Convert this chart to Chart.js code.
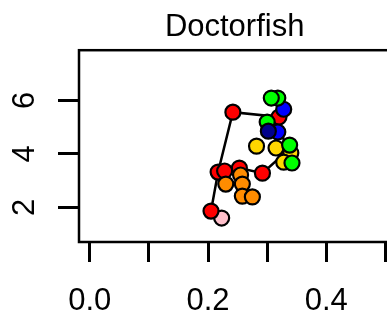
<!DOCTYPE html>
<html>
<head>
<meta charset="utf-8">
<script src="https://cdn.jsdelivr.net/npm/chart.js@4.4.0/dist/chart.umd.min.js"></script>
<style>
  html, body { margin: 0; padding: 0; overflow: hidden; background: #fff; }
</style>
</head>
<body>
<canvas id="grafico" width="400" height="317"></canvas>
<script>
const chartTitle = "Doctorfish";

const xTicks = [0, 0.1, 0.2, 0.3, 0.4, 0.5];
const xTickLabels = ["0.0", "", "0.2", "", "0.4", ""];
const yTicks = [2, 4, 6];
const yTickLabels = ["2", "4", "6"];

// trajectory (red points joined by the black line)
const redX = [0.205, 0.217, 0.242, 0.32, 0.332, 0.292, 0.253, 0.228];
const redY = [1.86, 3.32, 5.56, 5.38, 4.07, 3.28, 3.47, 3.36];

const orangeX = [0.255, 0.23, 0.258, 0.258, 0.275];
const orangeY = [3.21, 2.87, 2.87, 2.42, 2.39];

const pinkX = [0.223];
const pinkY = [1.6];

const greenX = [0.318, 0.307, 0.30, 0.338, 0.342];
const greenY = [6.09, 6.09, 5.19, 4.33, 3.66];

const blueX = [0.328, 0.318];
const blueY = [5.67, 4.82];

const navyX = [0.302];
const navyY = [4.85];

const yellowX = [0.282, 0.315, 0.34, 0.328];
const yellowY = [4.29, 4.22, 4.03, 3.69];

const fontFamily = "'Liberation Sans', Arial, Helvetica, sans-serif";

function toPoints(xs, ys) {
  return xs.map((x, i) => ({ x: x, y: ys[i] }));
}

function pointSet(xs, ys, color) {
  return {
    data: toPoints(xs, ys),
    showLine: false,
    pointRadius: 7.5,
    pointHoverRadius: 7.5,
    pointBorderWidth: 2.2,
    pointBorderColor: "#000",
    pointBackgroundColor: color,
  };
}

// R style box + rotated y labels
const boxPlugin = {
  id: "box",
  afterDraw(chart) {
    const ctx = chart.ctx;
    const area = chart.chartArea;
    ctx.save();
    ctx.strokeStyle = "#000";
    ctx.lineWidth = 2.5;
    ctx.strokeRect(area.left, area.top, area.right - area.left, area.bottom - area.top);

    const yScale = chart.scales.y;
    ctx.fillStyle = "#000";
    ctx.font = "31px " + fontFamily;
    ctx.textAlign = "center";
    ctx.textBaseline = "middle";
    yTicks.forEach((value, i) => {
      ctx.save();
      ctx.translate(25, yScale.getPixelForValue(value));
      ctx.rotate(-Math.PI / 2);
      ctx.fillText(yTickLabels[i], 0, 0);
      ctx.restore();
    });
    ctx.restore();
  },
};

const lineSet = pointSet(redX, redY, "#ff0000");
lineSet.showLine = true;
lineSet.borderColor = "#000";
lineSet.borderWidth = 2.5;
lineSet.tension = 0;

new Chart(document.getElementById("grafico"), {
  type: "scatter",
  data: {
    datasets: [
      pointSet(navyX, navyY, "#00008b"),
      pointSet(greenX, greenY, "#00ff00"),
      pointSet(blueX, blueY, "#0000ff"),
      pointSet(yellowX, yellowY, "#ffd700"),
      pointSet(orangeX, orangeY, "#ff8c00"),
      lineSet,
      pointSet(pinkX, pinkY, "#ffc0cb"),
    ],
  },
  options: {
    responsive: false,
    animation: false,
    layout: { padding: { left: 0, right: 5, top: 0, bottom: 0 } },
    plugins: {
      legend: { display: false },
      tooltip: { enabled: false },
      title: {
        display: true,
        text: chartTitle,
        fullSize: false,
        color: "#000",
        font: { family: fontFamily, size: 31, weight: "normal", lineHeight: 1.2 },
        padding: { top: 9, bottom: 4 },
      },
    },
    scales: {
      x: {
        type: "linear",
        position: "bottom",
        min: -0.0183,
        max: 0.5083,
        afterBuildTicks: (scale) => {
          scale.ticks = xTicks.map((v) => ({ value: v }));
        },
        afterFit: (scale) => {
          scale.height = 75;
          scale.paddingLeft = 0;
          scale.paddingRight = 0;
        },
        border: { display: false },
        grid: { drawOnChartArea: false, tickLength: 20, tickWidth: 3, tickColor: "#000" },
        ticks: {
          autoSkip: false,
          maxRotation: 0,
          padding: 21,
          color: "#000",
          font: { family: fontFamily, size: 31 },
          callback: (value) => xTickLabels[xTicks.indexOf(value)],
        },
      },
      y: {
        type: "linear",
        min: 0.703,
        max: 7.88,
        afterBuildTicks: (scale) => {
          scale.ticks = yTicks.map((v) => ({ value: v }));
        },
        afterFit: (scale) => {
          scale.width = 79;
        },
        border: { display: false },
        grid: { drawOnChartArea: false, tickLength: 21, tickWidth: 3, tickColor: "#000" },
        ticks: { display: false },
      },
    },
  },
  plugins: [boxPlugin],
});
</script>
</body>
</html>
